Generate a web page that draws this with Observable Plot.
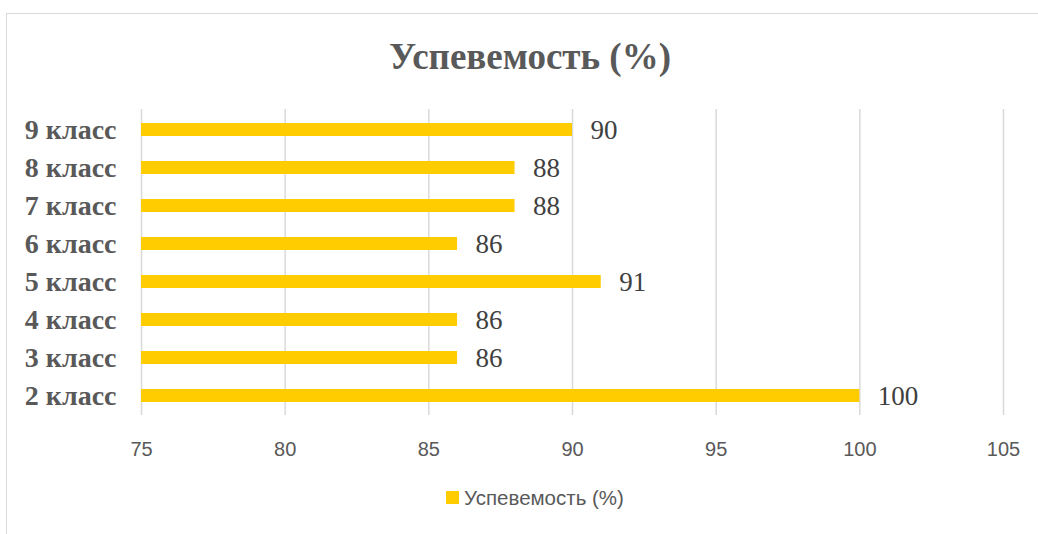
<!DOCTYPE html>
<html><head><meta charset="utf-8">
<script src="https://cdn.jsdelivr.net/npm/d3@7"></script>
<script src="https://cdn.jsdelivr.net/npm/@observablehq/plot@0.6"></script>
<style>
body{margin:0;background:#fff;}
#wrap{position:relative;width:1038px;height:534px;overflow:hidden;}
#frame{position:absolute;left:6px;top:13px;width:1100px;height:600px;border-top:1.5px solid #d9d9d9;border-left:1.5px solid #d9d9d9;}
#title{position:absolute;left:0;top:0;width:1060px;height:90px;text-align:center;line-height:114px;font-family:"Liberation Serif",serif;font-weight:bold;font-size:37px;color:#595959;}
#chart{position:absolute;left:0;top:90px;}
#legend{position:absolute;left:0;top:486px;width:1070px;text-align:center;font-family:"Liberation Sans",sans-serif;font-size:20.5px;color:#595959;}
#legend span.sw{display:inline-block;width:13px;height:13px;background:#FFCC00;margin-right:5px;vertical-align:middle;position:relative;top:-2px;}
</style></head>
<body><div id="wrap"><div id="frame"></div><div id="title">Успевемость (%)</div><div id="chart"></div>
<div id="legend"><span class="sw"></span>Успевемость (%)</div></div>
<script>
const categories = ["9 класс","8 класс","7 класс","6 класс","5 класс","4 класс","3 класс","2 класс"];
const values = [90,88,88,86,91,86,86,100];
const xTicks = [75,80,85,90,95,100,105];
const data = categories.map((c,i)=>({cls:c, v:values[i]}));
const plot = Plot.plot({
  width:1038, height:380,
  marginLeft:141, marginRight:35, marginTop:19, marginBottom:55,
  x:{domain:[75,105], ticks:xTicks, label:null},
  y:{domain:categories, label:null, paddingInner:0.66, paddingOuter:0.33},
  style:{background:"transparent"},
  marks:[
    Plot.gridX(xTicks,{stroke:"#d9d9d9", strokeOpacity:1, strokeWidth:1.5}),
    Plot.barX(data,{x1:75, x2:"v", y:"cls", fill:"#FFCC00"}),
    Plot.text(data,{x:"v", y:"cls", text:d=>String(d.v), textAnchor:"start", dx:18, fontFamily:"Liberation Serif, serif", fontSize:27, fill:"#404040"}),
    Plot.axisY({tickSize:0, tickPadding:25, fontFamily:"Liberation Serif, serif", fontWeight:"bold", fontSize:28, fill:"#595959", label:null}),
    Plot.axisX(xTicks,{tickSize:0, tickPadding:26, fontFamily:"Liberation Sans, sans-serif", fontSize:20, fill:"#595959", label:null})
  ]
});
document.getElementById("chart").appendChild(plot);
</script></body></html>
